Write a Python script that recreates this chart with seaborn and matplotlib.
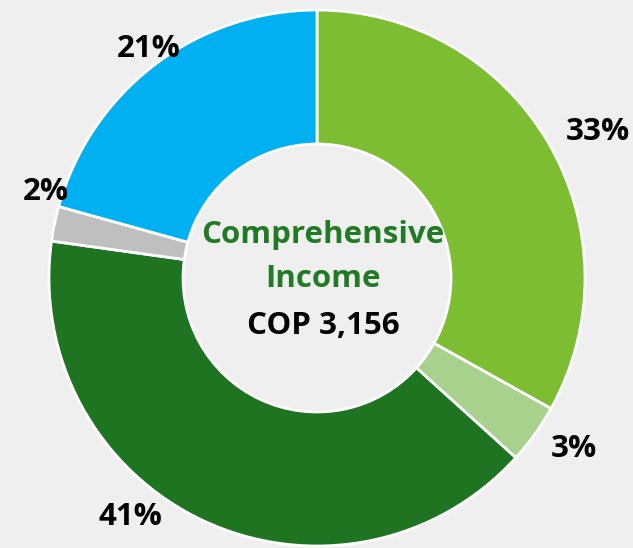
import matplotlib
matplotlib.use('Agg')
import matplotlib.pyplot as plt
import seaborn as sns
import numpy as np

sns.set_theme(style="white")
plt.rcParams['font.family'] = ['Open Sans', 'DejaVu Sans']

# slice shares (clockwise from 12 o'clock) and their printed labels
shares = [33.1, 3.6, 40.5, 2.1, 20.7]
share_labels = ["33%", "3%", "41%", "2%", "21%"]
slice_colors = ["#7CBD32", "#A9D18E", "#1E7421", "#BFBFBF", "#00B0F0"]

center_title = ["Comprehensive", "Income"]
center_value = "COP 3,156"

bg = "#EFEFEF"
fig = plt.figure(figsize=(6.33, 5.48), dpi=100, facecolor=bg)
ax = fig.add_axes([0, 0, 1, 1])
ax.set_facecolor(bg)

palette = sns.color_palette(slice_colors)
wedges, _ = ax.pie(shares, colors=palette, startangle=90, counterclock=False,
                   radius=1.0, wedgeprops=dict(width=0.5, edgecolor='white', linewidth=2))

# label placement: (angle offset in deg, radius) relative to each wedge's mid angle
label_pos = [(-3, 1.18), (2, 1.15), (-13, 1.13), (-6, 1.06), (-1, 1.06)]
for w, lab, (da, r) in zip(wedges, share_labels, label_pos):
    mid = np.deg2rad((w.theta1 + w.theta2) / 2 + da)
    ax.text(r * np.cos(mid), r * np.sin(mid), lab, ha='center', va='center',
            fontsize=22.5, fontweight='bold', color='black')

cx = 0.022
ax.text(cx, 0.16, center_title[0], ha='center', va='center', fontsize=22.5,
        fontweight='bold', color='#217A24')
ax.text(cx, -0.005, center_title[1], ha='center', va='center', fontsize=22.5,
        fontweight='bold', color='#217A24')
ax.text(cx, -0.18, center_value, ha='center', va='center', fontsize=22.5,
        fontweight='bold', color='black')

ax.set_xlim(-317 / 268, (633 - 317) / 268)
ax.set_ylim((278 - 548) / 268, 278 / 268)
ax.set_aspect('auto')
ax.axis('off')

fig.savefig('out.png', dpi=100, facecolor=bg)
plt.close(fig)
